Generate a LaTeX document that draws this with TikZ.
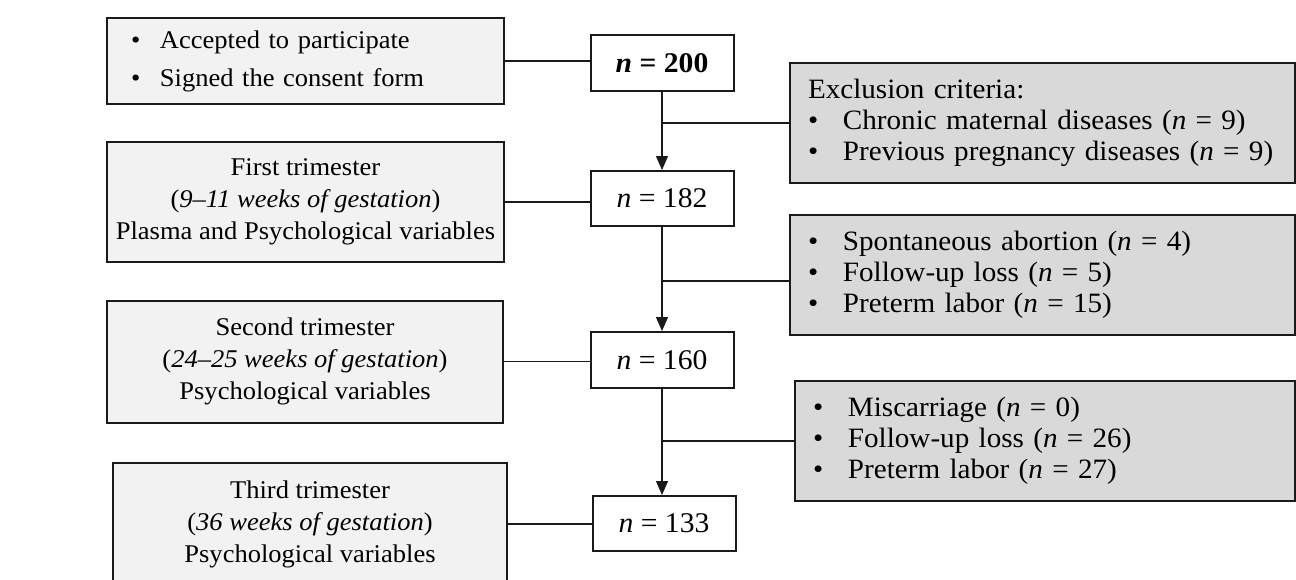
\documentclass[tikz,border=0pt]{standalone}
\usepackage{fontspec}
\setmainfont{Liberation Serif}[FakeStretch=1.04]
\usetikzlibrary{arrows.meta}
\definecolor{lightfill}{HTML}{F2F2F2}
\definecolor{darkfill}{HTML}{D9D9D9}
\definecolor{edgecol}{HTML}{1A1A1A}
\newcommand{\bulA}{\makebox[29pt][l]{\textbullet}}
\newcommand{\bulE}{\makebox[35pt][l]{\textbullet}}
\begin{document}
\begin{tikzpicture}[x=1pt,y=-1pt,
  box/.style={draw=edgecol,line width=2pt,inner sep=0pt,align=center,
    font=\fontsize{25.5}{32}\selectfont},
  leftbox/.style={box,fill=lightfill,minimum width=397pt,minimum height=120pt},
  countbox/.style={box,fill=white,minimum width=143pt,minimum height=56pt,
    font=\fontsize{28.5}{30}\selectfont},
  exclbox/.style={box,fill=darkfill,align=left,inner xsep=18pt,
    text width=469pt,minimum height=120pt,font=\fontsize{28}{31}\selectfont},
  link/.style={line width=1.2pt,draw=edgecol},
  flow/.style={link,-{Triangle[length=14pt,width=12pt]}}]
\useasboundingbox (0,0) rectangle (1296,579);

% left column
\node[leftbox,align=left,inner xsep=24pt,text width=349pt,minimum height=86pt]
  (accept) at (305.5,61) {\bulA Accepted to participate\\[6pt]\bulA Signed the consent form};
\node[leftbox] (first) at (305.5,202)
  {First trimester\\(\textit{9--11 weeks of gestation})\\Plasma and Psychological variables};
\node[leftbox,minimum width=396pt,minimum height=122pt] (second) at (305,361.5)
  {Second trimester\\(\textit{24--25 weeks of gestation})\\Psychological variables};
\node[leftbox,minimum width=394pt,minimum height=122pt] (third) at (310,524)
  {Third trimester\\(\textit{36 weeks of gestation})\\Psychological variables};

% counts
\node[countbox] (n200) at (662,63) {\textbf{\textit{n} = 200}};
\node[countbox,minimum height=55pt] (n182) at (662,198.5) {\textit{n} = 182};
\node[countbox] (n160) at (662,360) {\textit{n} = 160};
\node[countbox,minimum height=55pt] (n133) at (664,523.5) {\textit{n} = 133};

% exclusions
\node[exclbox] (ex1) at (1042.5,123)
  {Exclusion criteria:\\\bulE Chronic maternal diseases (\textit{n} = 9)\\\bulE Previous pregnancy diseases (\textit{n} = 9)};
\node[exclbox] (ex2) at (1042.5,275)
  {\bulE Spontaneous abortion (\textit{n} = 4)\\\bulE Follow-up loss (\textit{n} = 5)\\\bulE Preterm labor (\textit{n} = 15)};
\node[exclbox,text width=464pt] (ex3) at (1045,441)
  {\bulE Miscarriage (\textit{n} = 0)\\\bulE Follow-up loss (\textit{n} = 26)\\\bulE Preterm labor (\textit{n} = 27)};

% connectors
\draw[link] (accept.east) -- (accept.east -| n200.west);
\draw[link] (first.east) -- (first.east -| n182.west);
\draw[link] (second.east) -- (second.east -| n160.west);
\draw[link] (third.east) -- (third.east -| n133.west);

\draw[flow] (n200.south) -- (n182.north);
\draw[flow] (n182.south) -- (n160.north);
\draw[flow] (n160.south) -- (n160.south |- n133.north);

\draw[link] (ex1.west) -- (ex1.west -| n200.south);
\draw[link] ([yshift=-6pt]ex2.west) -- ([yshift=-6pt]ex2.west -| n182.south);
\draw[link] (ex3.west) -- (ex3.west -| n160.south);
\end{tikzpicture}
\end{document}
